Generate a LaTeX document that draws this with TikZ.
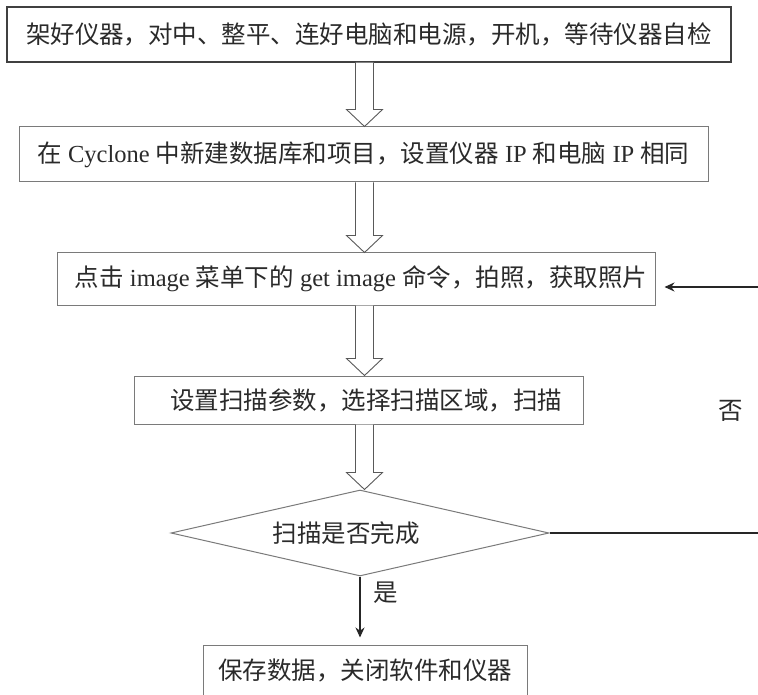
\documentclass[tikz,border=0pt]{standalone}
\usepackage{fontspec}
\setmainfont{Liberation Serif}
\newfontfamily\cjk{Noto Sans CJK SC}
\usetikzlibrary{shapes.geometric,arrows.meta,calc}
\definecolor{boxline}{HTML}{7A7A7A}
\definecolor{txt}{HTML}{2A2A2A}
\newcommand\harrowdraw[3]{%
  \path (#1.south -| #3) coordinate (hA) (#2.north -| #3) coordinate (hB);
  \draw[harr] ($(hA)+(-9,0)$) -- ($(hB)+(-9,-17)$) -- ($(hB)+(-18,-17)$) -- (hB)
     -- ($(hB)+(18,-17)$) -- ($(hB)+(9,-17)$) -- ($(hA)+(9,0)$);
}
\begin{document}
\begin{tikzpicture}[x=1pt,y=-1pt,
  every node/.style={font=\fontsize{24.5}{29}\selectfont, text=txt},
  stepbox/.style={draw=boxline, line width=1pt, rectangle, inner sep=0pt},
  harr/.style={draw=black!65, line width=0.9pt, fill=white, line join=miter},
  conn/.style={draw=black!85, line width=1.1pt},
  tip/.style={-{Stealth[length=10pt,width=9pt]}}
]
\clip (0,0) rectangle (758,695);
\fill[white] (0,0) rectangle (758,695);

\node[stepbox, draw=black!75, line width=1.4pt, minimum width=724pt, minimum height=55pt] (b1) at (369,34.5)
  {\cjk 架好仪器，对中、整平、连好电脑和电源，开机，等待仪器自检};
\node[stepbox, minimum width=689pt, minimum height=55pt] (b2) at (363.5,154.5)
  {{\cjk 在} Cyclone {\cjk 中新建数据库和项目，设置仪器} IP {\cjk 和电脑} IP {\cjk 相同}};
\node[stepbox, minimum width=598pt, minimum height=52pt] (b3) at (356,279)
  {\hspace{10pt}{\cjk 点击} image {\cjk 菜单下的} get image {\cjk 命令，拍照，获取照片}};
\node[stepbox, minimum width=449pt, minimum height=48pt] (b4) at (358.5,400)
  {\hspace{15pt}\cjk 设置扫描参数，选择扫描区域，扫描};
\node[diamond, draw=boxline, line width=1pt, inner sep=0pt, shape aspect=4.4,
  minimum width=378pt, minimum height=86pt] (dm) at (360,533) {};
\node (dt) at (346,533) {\cjk 扫描是否完成};
\node[stepbox, minimum width=324pt, minimum height=52pt] (b5) at (365,671)
  {\cjk 保存数据，关闭软件和仪器};

\coordinate (col) at (364.5,0);
\harrowdraw{b1}{b2}{col}
\harrowdraw{b2}{b3}{col}
\harrowdraw{b3}{b4}{col}
\harrowdraw{b4}{dm}{col}

\coordinate (fb1) at (790,533);
\coordinate (fb2) at (790,287);
\draw[conn] (dm.east) -- (fb1) -- (fb2);
\draw[conn, tip, shorten >=9pt] (fb2) -- (fb2 -| b3.east);
\draw[conn, tip, shorten >=7pt] (dm.south) -- (dm.south |- b5.north);

\node (yes) at (386,593) {\cjk 是};
\node (no) at (731,411) {\cjk 否};
\end{tikzpicture}
\end{document}
